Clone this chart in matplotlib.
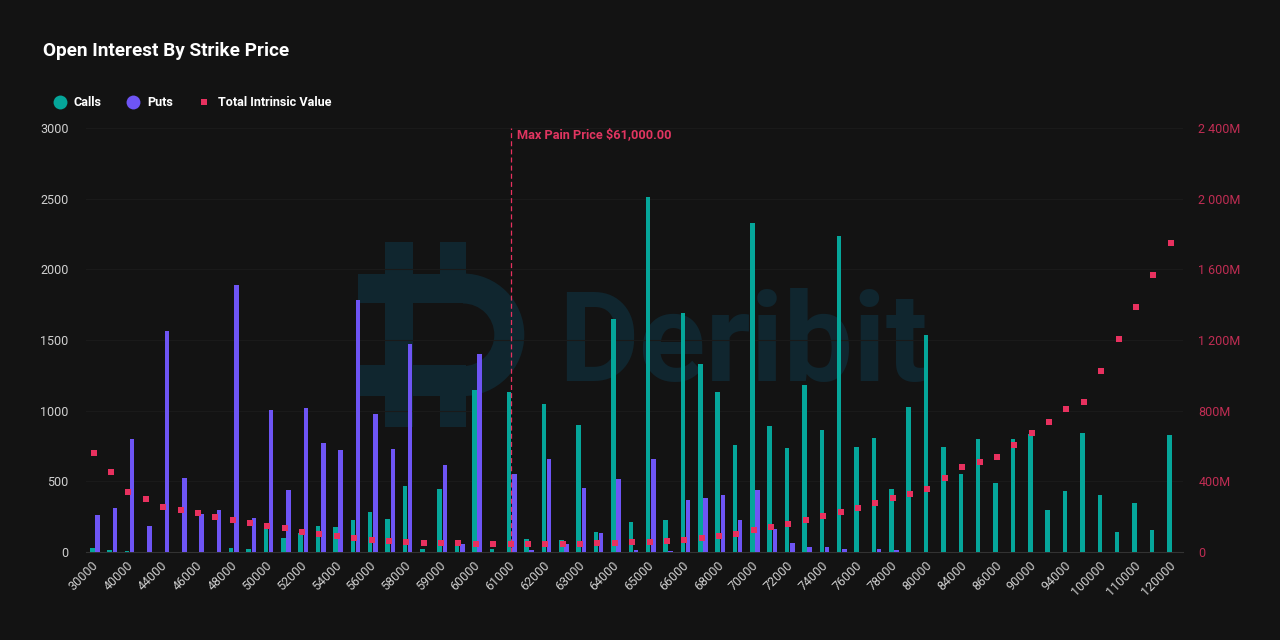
import numpy as np
import matplotlib
matplotlib.use("Agg")
import matplotlib.pyplot as plt
from matplotlib.patches import Rectangle, Wedge
from matplotlib.transforms import ScaledTranslation

plt.rcParams['font.family'] = ['Roboto', 'DejaVu Sans']

strikes = [30000, 35000, 40000, 42000, 44000, 45000, 46000, 47000, 48000, 49000,
           50000, 51000, 52000, 53000, 54000, 55000, 56000, 57000, 58000, 58500,
           59000, 59500, 60000, 60500, 61000, 61500, 62000, 62500, 63000, 63500,
           64000, 64500, 65000, 65500, 66000, 67000, 68000, 69000, 70000, 71000,
           72000, 73000, 74000, 75000, 76000, 77000, 78000, 79000, 80000, 82000,
           84000, 85000, 86000, 88000, 90000, 92000, 94000, 95000, 100000, 105000,
           110000, 115000, 120000]
calls = [31, 17, 10, 0, 0, 0, 0, 0, 31, 24,
         160, 99, 137, 182, 175, 229, 281, 236, 470, 24,
         448, 47, 1145, 24, 1135, 92, 1045, 83, 901, 144,
         1650, 212, 2515, 229, 1690, 1330, 1135, 755, 2330, 892,
         734, 1180, 861, 2235, 743, 810, 448, 1027, 1535, 741,
         552, 802, 491, 802, 833, 295, 432, 845, 401, 144,
         349, 158, 826]
puts = [264, 311, 802, 182, 1565, 526, 271, 295, 1890, 243,
        1008, 441, 1022, 772, 720, 1785, 975, 732, 1470, 0,
        614, 59, 1400, 0, 550, 17, 658, 59, 453, 135,
        514, 12, 658, 9, 370, 385, 401, 229, 439, 160,
        66, 33, 33, 24, 0, 24, 14, 0, 0, 0,
        0, 0, 0, 0, 0, 0, 0, 0, 0, 0,
        0, 0, 0]
intrinsic = [562, 455, 340, 298, 255, 238, 219, 200, 183, 164,
             145, 134, 115, 104, 91, 81, 66, 60, 57, 49,
             49, 51, 43, 43, 43, 43, 43, 43, 43, 49,
             49, 55, 57, 62, 68, 81, 92, 104, 123, 140,
             159, 183, 202, 225, 249, 279, 304, 328, 359, 419,
             479, 509, 540, 606, 672, 738, 811, 847, 1026, 1207,
             1388, 1570, 1751]
left_ticks = [0, 500, 1000, 1500, 2000, 2500, 3000]
right_ticks = [0, 400, 800, 1200, 1600, 2000, 2400]
right_labels = ['0', '400M', '800M', '1 200M', '1 600M', '2 000M', '2 400M']
max_pain = 61000

BG = '#131313'
TEAL = '#05a69a'
PURPLE = '#6e55f5'
PINK = '#e8315f'
PINK_TXT = '#c02d53'
GREY = '#d0d0d0'
MARK = '#10262f'

fig = plt.figure(figsize=(12.8, 6.4), dpi=100, facecolor=BG)

# overlay in pixels for the watermark, title and legend
bg = fig.add_axes([0, 0, 1, 1], zorder=0)
bg.set_xlim(0, 1280)
bg.set_ylim(640, 0)
bg.axis('off')

bg.add_patch(Rectangle((358, 273.5), 105, 29.5, color=MARK, lw=0))
bg.add_patch(Rectangle((358, 365), 105, 31, color=MARK, lw=0))
bg.add_patch(Rectangle((385, 242), 28, 185, color=MARK, lw=0))
bg.add_patch(Rectangle((439.5, 242), 26.5, 61, color=MARK, lw=0))
bg.add_patch(Rectangle((439.5, 365), 26.5, 62, color=MARK, lw=0))
bg.add_patch(Wedge((463, 334.8), 61.3, -90, 90, width=30, color=MARK, lw=0))
bg.text(558, 381, 'Deribit', color=MARK, fontsize=89, fontweight='bold',
        family='Roboto', ha='left', va='baseline')

bg.text(43, 51.5, 'Open Interest By Strike Price', color='white', fontsize=13.7,
        fontweight='bold', ha='left', va='center')
bg.scatter([60], [102], s=100, color=TEAL, lw=0)
bg.text(74, 102, 'Calls', color='white', fontsize=9.05, fontweight='bold', ha='left', va='center')
bg.scatter([133], [102], s=100, color=PURPLE, lw=0)
bg.text(147, 102, 'Puts', color='white', fontsize=9.05, fontweight='bold', ha='left', va='center')
bg.scatter([204], [102], s=14, marker='s', color=PINK, lw=0)
bg.text(218, 102, 'Total Intrinsic Value', color='white', fontsize=9.05, fontweight='bold',
        ha='left', va='center')

# main chart, left 86 to right 1183, top 128 to bottom 552 in pixels
ax = fig.add_axes([86 / 1280, 88 / 640, 1097 / 1280, 424 / 640], zorder=1)
ax.patch.set_alpha(0)
pos = np.arange(len(strikes))
ax.bar(pos - 0.10, calls, width=0.26, color=TEAL, zorder=3)
ax.bar(pos + 0.20, puts, width=0.26, color=PURPLE, zorder=3)
ax.set_xlim(-0.46, 62.69)
ax.set_ylim(0, 3000)
ax.set_yticks(left_ticks)
ax.tick_params(axis='y', length=0, pad=12.5, labelsize=9, labelcolor=GREY)
ax.set_xticks(pos[::2])
ax.set_xticklabels([str(s) for s in strikes[::2]], rotation=45, ha='right',
                   rotation_mode='anchor', fontsize=9, color=GREY)
ax.tick_params(axis='x', length=0, pad=5)
# pull the slanted labels a little to the left
shift = ScaledTranslation(-2.5 / 100, 0, fig.dpi_scale_trans)
for lab in ax.get_xticklabels():
    lab.set_transform(lab.get_transform() + shift)
ax.grid(axis='y', color='#1a1a1a', lw=0.8, zorder=0)
for s in ['top', 'left', 'right']:
    ax.spines[s].set_visible(False)
ax.spines['bottom'].set_color('#333333')

ax2 = ax.twinx()
ax2.set_zorder(2)
ax2.set_ylim(0, 2400)
ax2.set_yticks(right_ticks)
ax2.set_yticklabels(right_labels)
ax2.tick_params(axis='y', length=0, pad=11, labelsize=9, labelcolor=PINK_TXT)
for s in ax2.spines.values():
    s.set_visible(False)
ax2.scatter(pos - 0.02, intrinsic, s=14, marker='s', color=PINK, lw=0, zorder=5)
mp = strikes.index(max_pain)
ax2.axvline(mp - 0.02, color=PINK, lw=0.9, ls=(0, (4, 2.5)), zorder=4)
ax2.text(mp + 0.33, 2363, 'Max Pain Price $61,000.00', color='#e03560', fontsize=9.15,
         fontweight='bold', ha='left', va='center')

fig.savefig('out.png', dpi=100, facecolor=BG)
